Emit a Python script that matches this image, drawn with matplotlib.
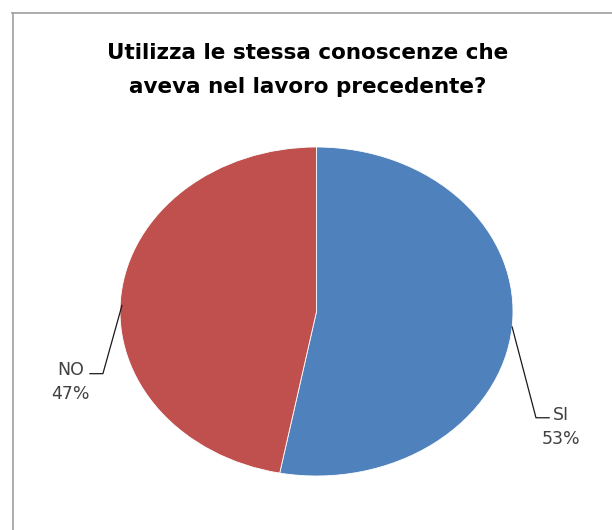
import numpy as np
import matplotlib
matplotlib.use('Agg')
import matplotlib.pyplot as plt
from matplotlib.lines import Line2D

labels = ['SI', 'NO']
values = [53, 47]
colors = ['#4F81BD', '#C0504D']
title = 'Utilizza le stessa conoscenze che\naveva nel lavoro precedente?'

W, H = 612, 530
fig = plt.figure(figsize=(W / 100, H / 100), dpi=100)

# chart frame (only top and left edges are visible in the reference)
fig.add_artist(Line2D([12 / W, 1], [1 - 12.5 / H, 1 - 12.5 / H], color='#a6a6a6', lw=1.3))
fig.add_artist(Line2D([13 / W, 13 / W], [0, 1 - 12.5 / H], color='#a6a6a6', lw=1.3))

fig.text(308 / W, 1 - 70 / H, title, ha='center', va='center', fontsize=15.5,
         fontweight='bold', linespacing=1.9, color='black')

# pie is stretched horizontally, so the axes box sets the ellipse
ax = fig.add_axes([120 / W, 1 - 476 / H, 393 / W, 329 / H])
wedges, _ = ax.pie(values, colors=colors, startangle=90, counterclock=False,
                   radius=1, wedgeprops=dict(edgecolor='white', linewidth=0.6))
ax.set_aspect('auto')
ax.set_xlim(-1, 1)
ax.set_ylim(-1, 1)
ax.axis('off')

# leader lines and labels
elbows = {'SI': (1.117, -0.646, 1.184), 'NO': (-1.087, -0.378, -1.153)}
text_pos = {'SI': (1.245, -0.70), 'NO': (-1.25, -0.43)}
starts = {'SI': None, 'NO': (-0.99, 0.037)}
for w, lab, v in zip(wedges, labels, values):
    mid = np.deg2rad((w.theta1 + w.theta2) / 2)
    sx, sy = np.cos(mid), np.sin(mid)
    if starts[lab] is not None:
        sx, sy = starts[lab]
    ex, ey, hx = elbows[lab]
    ax.plot([sx, ex, hx], [sy, ey, ey], color='#1a1a1a', lw=0.9, clip_on=False)
    tx, ty = text_pos[lab]
    ax.text(tx, ty, f'{lab}\n{v}%', ha='center', va='center', fontsize=12.5,
            color='#404040', linespacing=1.45, clip_on=False)

fig.savefig('out.png', dpi=100, facecolor='white')
